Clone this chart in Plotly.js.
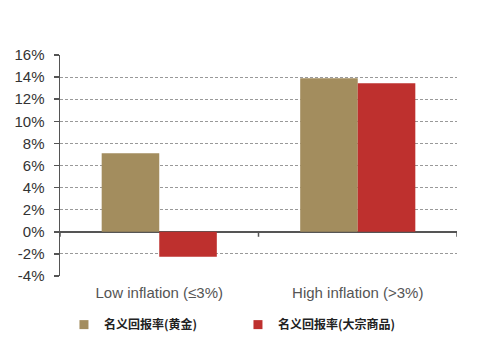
<!DOCTYPE html>
<html>
<head>
<meta charset="utf-8">
<script src="https://cdn.plot.ly/plotly-3.0.1.min.js"></script>
<style>html,body{margin:0;padding:0;background:#fff;}#chart{width:500px;height:362px;}</style>
</head>
<body>
<div id="chart"></div>
<script>
const categories = ["Low inflation (≤3%)", "High inflation (>3%)"];
const goldReturns = [7.1, 13.9];
const commodityReturns = [-2.25, 13.45];
const seriesNames = ["名义回报率(黄金)", "名义回报率(大宗商品)"];
const seriesColors = ["#A38D5E", "#BE302E"];
const yTicks = [-4, -2, 0, 2, 4, 6, 8, 10, 12, 14, 16];

const traces = [
  {type: "bar", x: categories, y: goldReturns, name: seriesNames[0],
   marker: {color: seriesColors[0]}, hoverinfo: "none", showlegend: false},
  {type: "bar", x: categories, y: commodityReturns, name: seriesNames[1],
   marker: {color: seriesColors[1]}, hoverinfo: "none", showlegend: false},
  {type: "scatter", mode: "markers", x: [null], y: [null], name: seriesNames[0],
   marker: {symbol: "square", size: 9, color: seriesColors[0]}, hoverinfo: "none"},
  {type: "scatter", mode: "markers", x: [null], y: [null], name: seriesNames[1],
   marker: {symbol: "square", size: 9, color: seriesColors[1]}, hoverinfo: "none"}
];

const axisColor = "#555";
const boundaryTicks = [-0.5, 0.5, 1.5].map(v => ({
  type: "line", xref: "x", yref: "y", x0: v, x1: v, y0: 0, y1: -0.45,
  line: {color: axisColor, width: 1.5}
}));

const layout = {
  width: 500, height: 362,
  margin: {l: 60, r: 43, t: 55, b: 86},
  paper_bgcolor: "#fff", plot_bgcolor: "#fff",
  barmode: "group", bargap: 0.42, bargroupgap: 0,
  showlegend: true,
  legend: {orientation: "h", x: 0.01, y: -0.22, xanchor: "left", yanchor: "middle",
           entrywidth: 129, entrywidthmode: "pixels",
           font: {family: "Noto Sans CJK SC", size: 12, color: "#222", weight: 700},
           itemclick: false},
  xaxis: {type: "category", range: [-0.5, 1.5], showgrid: false, zeroline: false,
          showline: false, ticks: "", ticklabelstandoff: 6,
          tickfont: {family: "Liberation Sans, Arial", size: 15, color: "#555"}},
  yaxis: {range: [-4, 16], tickvals: yTicks, ticktext: yTicks.map(v => v + "%"),
          showline: true, linecolor: axisColor, linewidth: 1.5,
          ticks: "outside", ticklen: 5, tickcolor: axisColor, tickwidth: 1.5,
          showgrid: true, gridcolor: "#999", griddash: "3px,2px", gridwidth: 1,
          zeroline: true, zerolinecolor: axisColor, zerolinewidth: 1.5,
          ticklabelstandoff: 6,
          tickfont: {family: "Liberation Sans, Arial", size: 15, color: "#333"}},
  shapes: boundaryTicks
};

Plotly.newPlot("chart", traces, layout, {displayModeBar: false, staticPlot: true});
</script>
</body>
</html>
